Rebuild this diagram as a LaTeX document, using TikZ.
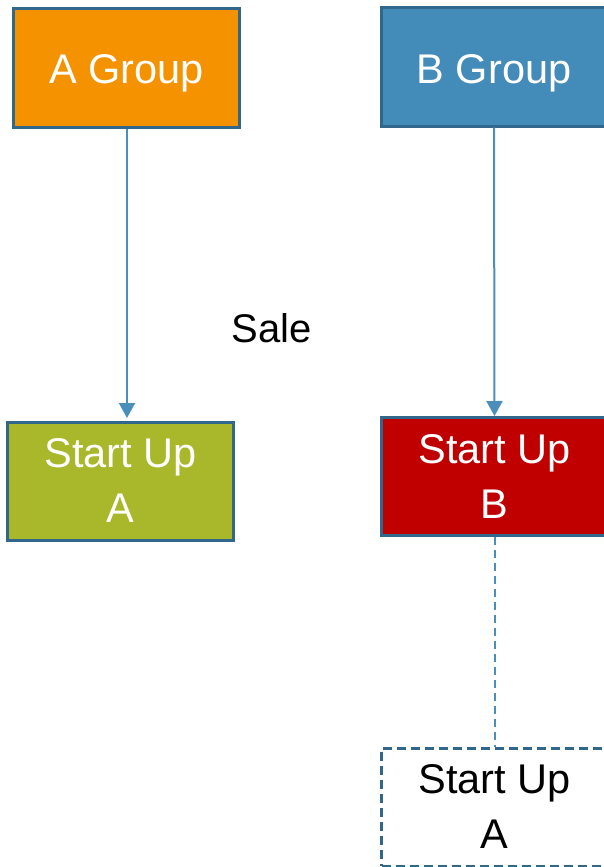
\documentclass[tikz,border=0pt]{standalone}
\usepackage{fontspec}
\setmainfont{Liberation Sans}
\usetikzlibrary{arrows.meta}
\definecolor{borderc}{HTML}{31678A}
\definecolor{arrowc}{HTML}{4A8FBC}
\definecolor{orangec}{HTML}{F59200}
\definecolor{bluec}{HTML}{438BB8}
\definecolor{greenc}{HTML}{A8B82A}
\definecolor{redc}{HTML}{C00000}
\tikzset{
  box/.style={draw=borderc, line width=3pt, rectangle, minimum width=226pt, minimum height=118pt,
    inner sep=0pt, align=center, font=\fontsize{41.5}{55}\selectfont, text=white},
  oneline/.style={text height=32pt, text depth=0pt},
  dbox/.style={box, dash pattern=on 9pt off 5pt, fill=white, text=black},
  conn/.style={draw=arrowc, line width=2pt, -{Triangle[length=15pt,width=16pt]}},
  dconn/.style={draw=arrowc, line width=2pt, dash pattern=on 8pt off 5pt}
}
\begin{document}
\begin{tikzpicture}[x=1pt,y=-1pt]
\useasboundingbox (0,0) rectangle (604,867);
\clip (0,0) rectangle (604,867);
\node[box, oneline, fill=orangec] (ag) at (126.5,68) {A Group};
\node[box, oneline, fill=bluec] (bg) at (494,67) {B Group};
\node[box, fill=greenc] (sa) at (120.5,481) {Start Up\\A};
\node[box, fill=redc] (sb) at (494.5,476.5) {Start Up\\B};
\node[dbox] (sa2) at (494.5,807) {Start Up\\A};
\node[font=\fontsize{40}{50}\selectfont] (sale) at (272,328) {Sale};
\draw[conn] (ag.south -| 127,0) -- (127,418);
\draw[conn] (bg.south) -- (sb.north);
\draw[dconn] (sb.south) -- (sa2.north);
\end{tikzpicture}
\end{document}
